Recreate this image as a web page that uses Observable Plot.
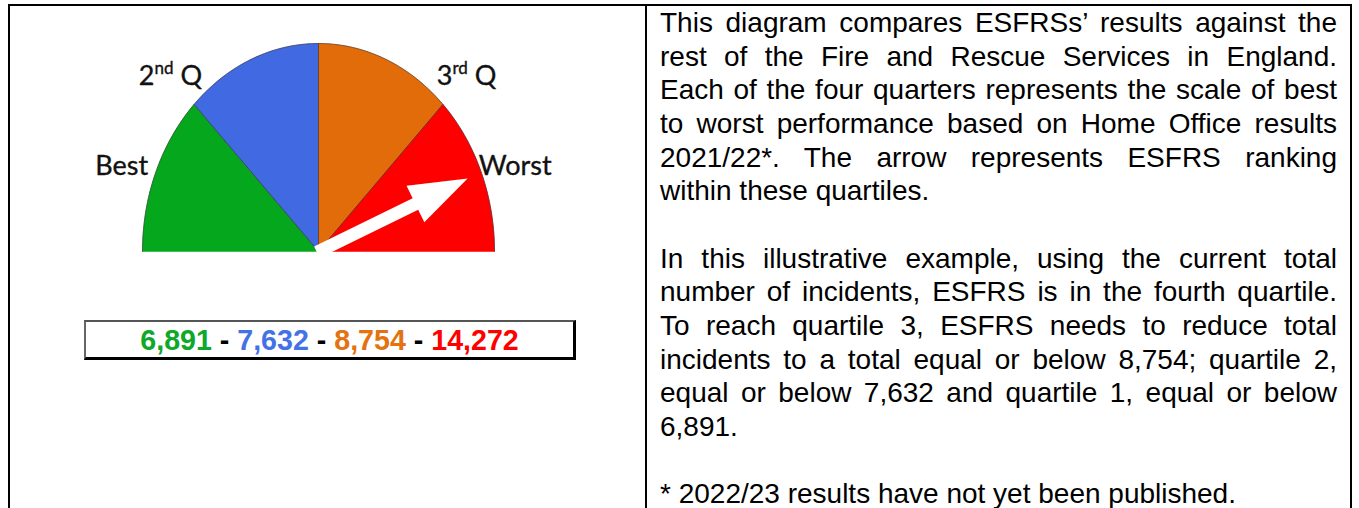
<!DOCTYPE html>
<html>
<head>
<meta charset="utf-8">
<script src="https://cdn.jsdelivr.net/npm/d3@7"></script>
<script src="https://cdn.jsdelivr.net/npm/@observablehq/plot@0.6"></script>
<style>
  html, body { margin: 0; padding: 0; background: #fff; }
  #page { position: relative; width: 1359px; height: 508px; overflow: hidden; background: #fff; }
  #frame { position: absolute; left: 8px; top: 4px; width: 1344px; height: 700px; box-sizing: border-box; border: 2px solid #000; }
  #divider { position: absolute; left: 645px; top: 4px; width: 2px; height: 700px; background: #000; }
  #gauge { position: absolute; left: 10px; top: 6px; }
  #numbox { position: absolute; left: 84px; top: 320px; width: 492px; height: 40px; box-sizing: border-box;
    border-top: 2px solid #555; border-left: 2px solid #666; border-right: 3px solid #000; border-bottom: 3px solid #000;
    font: bold 28.6px "Liberation Sans", Arial, sans-serif; text-align: center; line-height: 36px; white-space: nowrap; }
  #text { position: absolute; left: 660px; top: 6px; width: 677px; font: 28px "Liberation Sans", Arial, sans-serif;
    line-height: 33.66px; color: #000; }
  #text .j { text-align: justify; text-align-last: justify; white-space: nowrap; }
  #text .l { text-align: left; white-space: nowrap; }
</style>
</head>
<body>
<div id="page">
  <div id="frame"></div>
  <div id="divider"></div>
  <div id="gauge"></div>
  <div id="numbox"></div>
  <div id="text"></div>
</div>
<script>
// ---- Data ----
const quarters = ["Best", "2nd Q", "3rd Q", "Worst"];
const thresholds = [6891, 7632, 8754, 14272];
const quarterColors = ["#05A81D", "#4169E1", "#E36C0A", "#FF0000"];
const numberColors = ["#0EA82A", "#4472E6", "#E3720F", "#FF0000"];
const esfrsRank = 0.875;      // ESFRS position on the best -> worst scale (0..1)
const arrowReach = 0.917;     // arrow length relative to the gauge radius
const paragraphLines = [
  ["This diagram compares ESFRSs’ results against the",
   "rest of the Fire and Rescue Services in England.",
   "Each of the four quarters represents the scale of best",
   "to worst performance based on Home Office results",
   "2021/22*. The arrow represents ESFRS ranking",
   "within these quartiles."],
  ["In this illustrative example, using the current total",
   "number of incidents, ESFRS is in the fourth quartile.",
   "To reach quartile 3, ESFRS needs to reduce total",
   "incidents to a total equal or below 8,754; quartile 2,",
   "equal or below 7,632 and quartile 1, equal or below",
   "6,891."],
  ["* 2022/23 results have not yet been published."]
];

// ---- Geometry helpers (gauge is a half-ellipse, taller than wide) ----
const ry = 1.18;
const rad = (deg) => deg * Math.PI / 180;
const pt = (deg, r = 1) => [r * Math.cos(rad(deg)), ry * r * Math.sin(rad(deg))];

const sectors = [];
quarters.forEach((q, i) => {
  const a0 = 180 - 45 * i, a1 = a0 - 45;
  sectors.push({q, x: 0, y: 0});
  for (let k = 0; k <= 40; k++) {
    const [x, y] = pt(a0 + (a1 - a0) * k / 40);
    sectors.push({q, x, y});
  }
  sectors.push({q, x: 0, y: 0});
});
const arc = d3.range(0, 181).map(a => { const [x, y] = pt(180 - a); return {x, y}; });
const radials = [135, 90, 45].map(a => { const [x, y] = pt(a); return {x, y}; });

// Arrow polygon
const tipDeg = 180 * (1 - esfrsRank);
const [tx, ty] = pt(tipDeg, arrowReach);
const L = Math.hypot(tx, ty);
const ux = tx / L, uy = ty / L, nx = -uy, ny = ux;
const w = 0.036, h = 0.33, hw = 0.115, t0 = -0.01;
const A = (s, o) => ({x: ux * s + nx * o, y: uy * s + ny * o});
const arrow = [A(t0, w), A(L - h, w), A(L - h, hw), A(L, 0), A(L - h, -hw), A(L - h, -w), A(t0, -w)];

const labelAngles = [160, 135, 45, 20];
const labels = quarters.map((q, i) => {
  const [x, y] = pt(labelAngles[i], 1.19);
  return {q, x, y};
});

const chart = Plot.plot({
  width: 635, height: 300,
  margin: 0,
  x: {domain: [-1, 1], range: [132, 484], axis: null},
  y: {domain: [0, ry], range: [245, 37], axis: null},
  color: {domain: quarters, range: quarterColors},
  style: {background: "transparent", overflow: "visible"},
  marks: [
    Plot.line(sectors, {x: "x", y: "y", z: "q", fill: "q", stroke: "q", strokeWidth: 0.5, curve: "linear"}),
    Plot.link(radials, {x1: 0, y1: 0, x2: "x", y2: "y", stroke: "#3a3030", strokeWidth: 1, strokeOpacity: 0.7}),
    Plot.line(arc, {x: "x", y: "y", stroke: "#3a3030", strokeWidth: 1, strokeOpacity: 0.6}),
    Plot.line(arrow, {x: "x", y: "y", fill: "white", stroke: "none", curve: "linear-closed"}),
    Plot.text(labels, {x: "x", y: "y", text: "q", fontSize: 27, fontFamily: "Lato, 'Open Sans', sans-serif",
      fill: "#111", stroke: "#111", strokeWidth: 0.35})
  ]
});
document.getElementById("gauge").appendChild(chart);

// superscripts for ordinal labels
chart.querySelectorAll("text").forEach(t => {
  const m = (t.textContent || "").match(/^(\d)(nd|rd|st|th) (Q)$/);
  if (m) {
    t.innerHTML = `${m[1]}<tspan font-size="17" dy="-11">${m[2]}</tspan><tspan dy="11"> ${m[3]}</tspan>`;
  }
});

// number box
const nb = document.getElementById("numbox");
nb.innerHTML = thresholds.map((v, i) =>
  `<span style="color:${numberColors[i]}">${d3.format(",")(v)}</span>`).join(`<span style="color:#000"> - </span>`);

// text
const tx_ = document.getElementById("text");
paragraphLines.forEach((lines, pi) => {
  lines.forEach((ln, li) => {
    const d = document.createElement("div");
    d.className = (li === lines.length - 1) ? "l" : "j";
    d.textContent = ln;
    tx_.appendChild(d);
  });
  if (pi < paragraphLines.length - 1) {
    const b = document.createElement("div");
    b.innerHTML = "&nbsp;";
    tx_.appendChild(b);
  }
});
</script>
</body>
</html>
